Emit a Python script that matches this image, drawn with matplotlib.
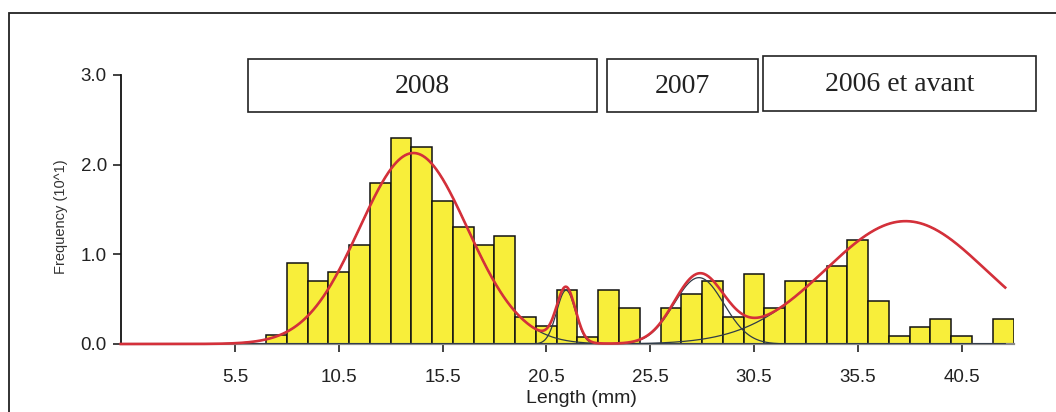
import numpy as np
import matplotlib
matplotlib.use("Agg")
import matplotlib.pyplot as plt
from matplotlib.patches import Rectangle

# ---- data ----
bin_centers = [7.5, 8.5, 9.5, 10.5, 11.5, 12.5, 13.5, 14.5, 15.5, 16.5, 17.5, 18.5,
               19.5, 20.5, 21.5, 22.5, 23.5, 24.5, 25.5, 26.5, 27.5, 28.5, 29.5,
               30.5, 31.5, 32.5, 33.5, 34.5, 35.5, 36.5, 37.5, 38.5, 39.5, 40.5,
               41.5, 42.5]
frequencies = [0.1, 0.9, 0.7, 0.8, 1.1, 1.8, 2.3, 2.2, 1.6, 1.3, 1.1, 1.2,
               0.3, 0.2, 0.6, 0.08, 0.6, 0.4, 0.0, 0.4, 0.56, 0.7, 0.3,
               0.78, 0.4, 0.7, 0.7, 0.87, 1.16, 0.48, 0.09, 0.19, 0.28, 0.09,
               0.0, 0.28]

# fitted normal components (mean, sd, peak height)
comp_means = [14.1, 21.45, 27.85, 37.8]
comp_sds = [2.6, 0.45, 1.2, 3.85]
comp_peaks = [2.13, 0.60, 0.74, 1.37]

x_ticks = [5.5, 10.5, 15.5, 20.5, 25.5, 30.5, 35.5, 40.5]
y_ticks = [0.0, 1.0, 2.0, 3.0]

cohort_labels = ["2008", "2007", "2006 et avant"]

# ---- figure ----
W, H = 1056, 412
fig = plt.figure(figsize=(W / 100, H / 100), dpi=100)
ax = fig.add_axes([120.7 / W, (H - 344) / H, (1013.5 - 120.7) / W, 269 / H])

ax.bar(bin_centers, frequencies, width=1.0, color="#f8ee3a",
       edgecolor="#111111", linewidth=1.1, zorder=2)

xs = np.linspace(0, 42.6, 800)
total = np.zeros_like(xs)
for m, s, p in zip(comp_means, comp_sds, comp_peaks):
    c = p * np.exp(-0.5 * ((xs - m) / s) ** 2)
    total += c
    ax.plot(xs, c, color="#2f3b48", lw=0.9, zorder=3)
ax.plot(xs, total, color="#d4303a", lw=1.9, zorder=4, clip_on=False)

ax.set_xlim(0, 43)
ax.set_ylim(0, 3.0)
ax.set_xticks(x_ticks)
ax.set_xticklabels([f"{t:.1f}" for t in x_ticks])
ax.set_yticks(y_ticks)
ax.set_yticklabels([f"{t:.1f}" for t in y_ticks])

for side in ("top", "right"):
    ax.spines[side].set_visible(False)
ax.spines["left"].set_color("#111111")
ax.spines["left"].set_linewidth(1.3)
ax.spines["bottom"].set_color("#8a8a8a")
ax.spines["bottom"].set_linewidth(1.6)

ax.tick_params(axis="x", direction="out", length=6, width=1.2, pad=12,
               labelsize=13.5, colors="#222222")
ax.tick_params(axis="y", direction="out", length=6, width=1.2, pad=4,
               labelsize=13.5, colors="#222222")
for lab in ax.get_xticklabels() + ax.get_yticklabels():
    lab.set_family(["Liberation Sans", "DejaVu Sans"])

ax.set_xlabel("Length (mm)", fontsize=14, family=["Liberation Sans", "DejaVu Sans"],
              color="#222222")
ax.xaxis.set_label_coords(0.516, -0.17)
ax.set_ylabel("Frequency (10^1)", fontsize=10.5,
              family=["Liberation Sans", "DejaVu Sans"], color="#333333")
ax.yaxis.set_label_coords(-0.059, 0.472)

# ---- outer frame (top and left visible) ----
fig.add_artist(Rectangle((9 / W, -0.2), 1.5, 1.2 - 12.7 / H, transform=fig.transFigure,
                         fill=False, edgecolor="#222222", linewidth=1.3))

# ---- cohort boxes ----
boxes = [(248, 597, 59, 112), (607, 758, 59, 112), (763, 1036, 56, 111)]
for (x0, x1, y0, y1), label in zip(boxes, cohort_labels):
    fig.add_artist(Rectangle((x0 / W, 1 - y1 / H), (x1 - x0) / W, (y1 - y0) / H,
                             transform=fig.transFigure, fill=False,
                             edgecolor="#222222", linewidth=1.2))
    fig.text((x0 + x1) / 2 / W, 1 - ((y0 + y1) / 2 + 1) / H, label,
             ha="center", va="center", fontsize=20,
             family=["Liberation Serif", "DejaVu Serif"], color="#222222")

fig.savefig("out.png", dpi=100)
